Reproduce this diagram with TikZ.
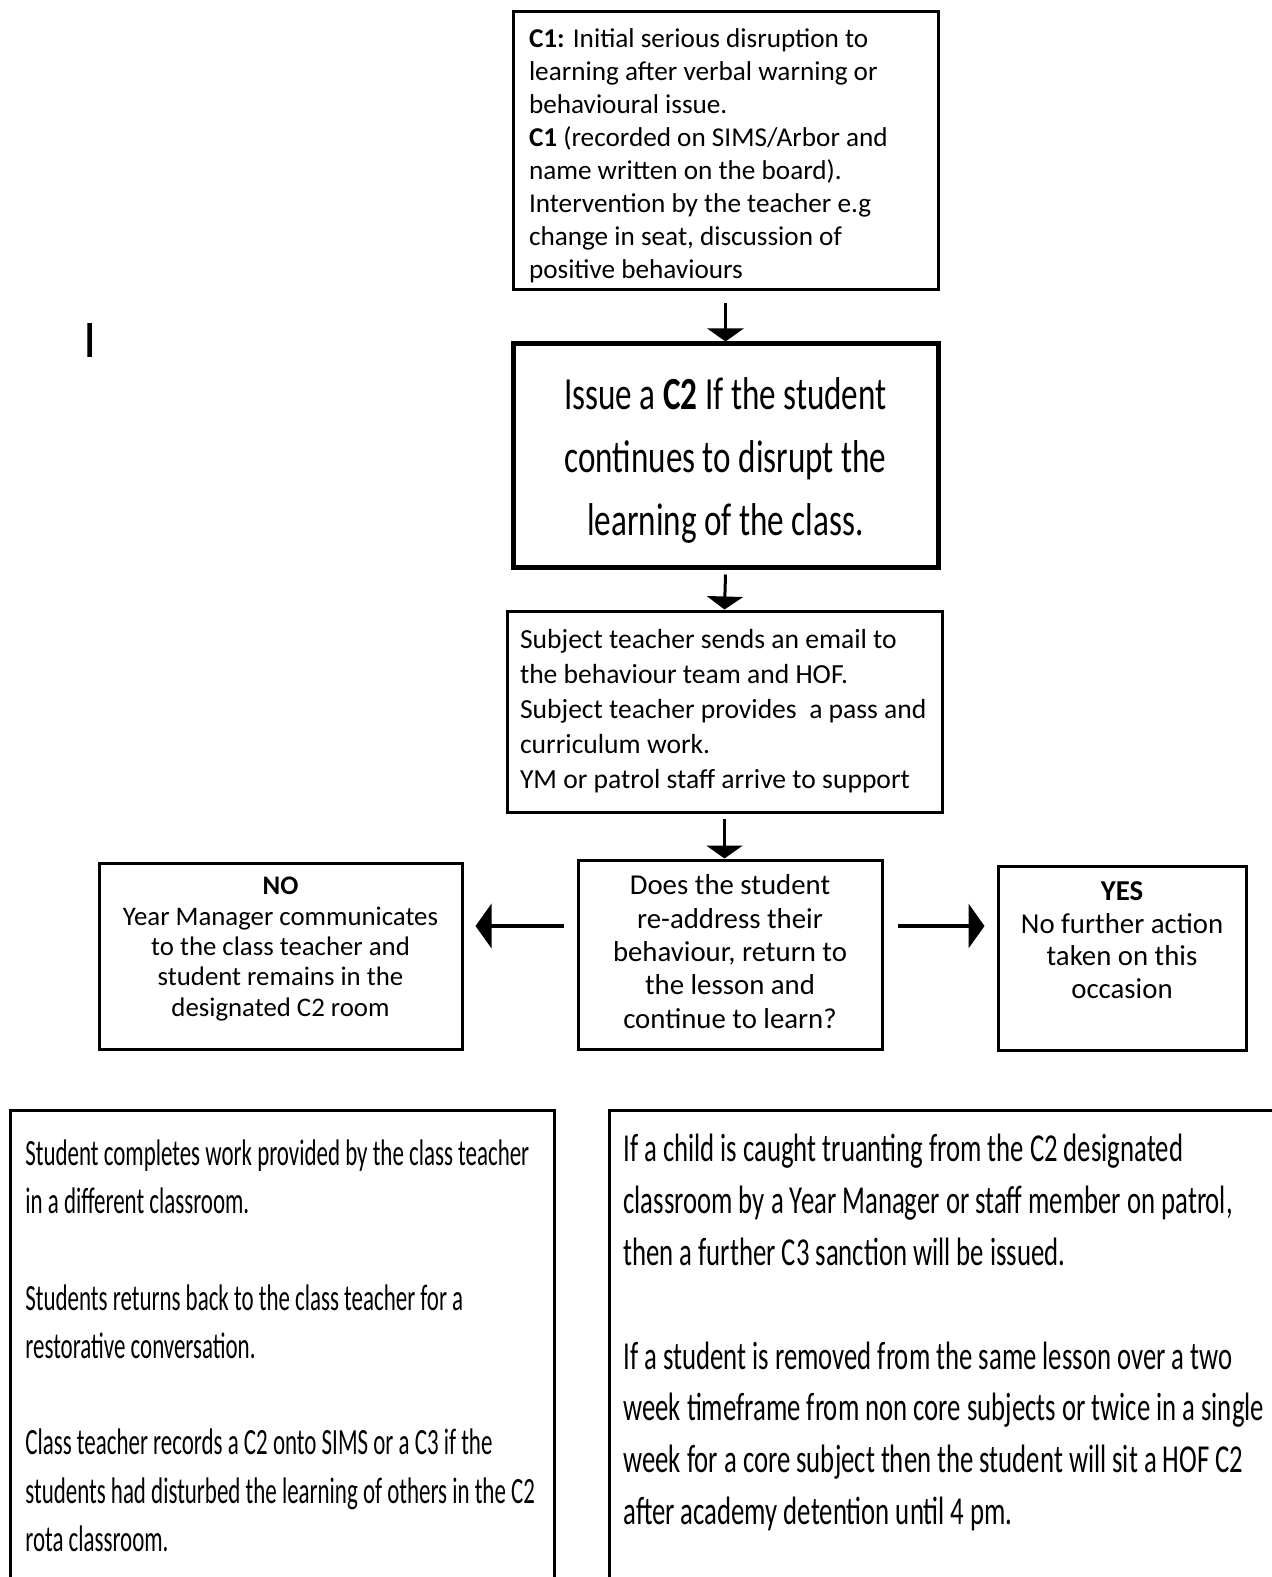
\documentclass[tikz,border=0pt]{standalone}
\usepackage{fontspec}
\setmainfont{Carlito}
\newfontfamily\narrowfont[FakeStretch=0.62]{Carlito}
\newfontfamily\widenarrowfont[FakeStretch=0.675]{Carlito}
\newfontfamily\headfont[FakeStretch=0.72]{Carlito}
\usetikzlibrary{arrows.meta}

\begin{document}
\begin{tikzpicture}[x=0.5pt,y=0.5pt,
  box/.style={draw, line width=1.5pt},
  flow/.style={-{Triangle[width=18pt,length=6.5pt]}, line width=1.5pt},
  branch/.style={-{Triangle[width=22pt,length=8pt]}, line width=2pt}]
				\useasboundingbox (0,0) rectangle (1271,-1577);
				% first warning
				\node [box, minimum width=212.5pt, minimum height=139pt, text width=196.5pt, inner xsep=8pt, align=flush left, font=\fontsize{13.6}{16.5}\selectfont] (c1) at (725.5,-151) {\rule{0pt}{14pt}\textbf{C1:} Initial serious disruption to\\learning after verbal warning or\\behavioural issue.\\\textbf{C1} (recorded on SIMS/Arbor and\\name written on the board).\\Intervention by the teacher e.g\\change in seat, discussion of\\positive behaviours};
				\node [box, line width=2.5pt, minimum width=212.5pt, minimum height=111.5pt, align=center, font=\headfont\fontsize{23}{31.4}\selectfont] (c2) at (725.5,-455.5) {\rule{0pt}{21pt}Issue a \textbf{C2} If the student\\continues to disrupt the\\learning of the class.};
				\node [box, minimum width=217.5pt, minimum height=100.5pt, text width=204.5pt, inner xsep=6.5pt, align=flush left, font=\fontsize{13.8}{17.5}\selectfont] (mail) at (724.5,-711.5) {Subject teacher sends an email to\\the behaviour team and HOF.\\Subject teacher provides~ a pass and\\curriculum work.\\YM or patrol staff arrive to support};
				\node [box, minimum width=152pt, minimum height=94.5pt, align=center, font=\fontsize{14.4}{16.7}\selectfont] (ask) at (730,-954.5) {Does the student\\re-address their\\behaviour, return to\\the lesson and\\continue to learn?\rule[-3pt]{0pt}{3pt}};
				% outcomes
				\node [box, minimum width=181.5pt, minimum height=93pt] (no) at (280.5,-956) {};
				\node [align=center, font=\fontsize{13.4}{15.2}\selectfont] (notext) at (280.5,-949) {\textbf{NO}\\Year Manager communicates\\to the class teacher and\\student remains in the\\designated C2 room};
				\node [box, minimum width=124pt, minimum height=92pt] (yes) at (1122,-958) {};
				\node [align=center, font=\fontsize{14.4}{16.25}\selectfont] (yestext) at (1122,-940) {\textbf{YES}\\No further action\\taken on this\\occasion};
				\node [font=\fontsize{26.5}{30}\selectfont] (mark) at (90,-340) {I};
				% bottom notes
				\node [box, anchor=north west, minimum width=272pt, minimum height=260pt] (stay) at (9,-1109) {};
				\node [anchor=north west, align=flush left, inner sep=0pt, font=\narrowfont\fontsize{18.5}{24.15}\selectfont] (staytext) at (25,-1139) {Student completes work provided by the class teacher\\in a different classroom.\\[24.15pt]Students returns back to the class teacher for a\\restorative conversation.\\[24.15pt]Class teacher records a C2 onto SIMS or a C3 if the\\students had disturbed the learning of others in the C2\\rota classroom.};
				\node [box, anchor=north west, minimum width=340pt, minimum height=260pt] (warn) at (608,-1109) {};
				\node [anchor=north west, align=flush left, inner sep=0pt, font=\widenarrowfont\fontsize{19.8}{25.9}\selectfont] (warntext) at (623,-1134) {If a child is caught truanting from the C2 designated\\classroom by a Year Manager or staff member on patrol,\\then a further C3 sanction will be issued.\\[25.9pt]If a student is removed from the same lesson over a two\\week timeframe from non core subjects or twice in a single\\week for a core subject then the student will sit a HOF C2\\after academy detention until 4 pm.};
				% arrows
				\draw [flow] ([yshift=-6pt]c1.south) -- (c2.north);
				\draw [flow] ([yshift=-2.5pt]c2.south) -- (mail.north);
				\draw [flow] ([yshift=-2.5pt]mail.south) -- (mail.south |- ask.north);
				\draw [branch] ([shift={(-13,28.5)}]ask.west) -- ([shift={(12,30)}]no.east);
				\draw [branch] ([shift={(14,28.5)}]ask.east) -- ([shift={(-12,32)}]yes.west);
\end{tikzpicture}
\end{document}
